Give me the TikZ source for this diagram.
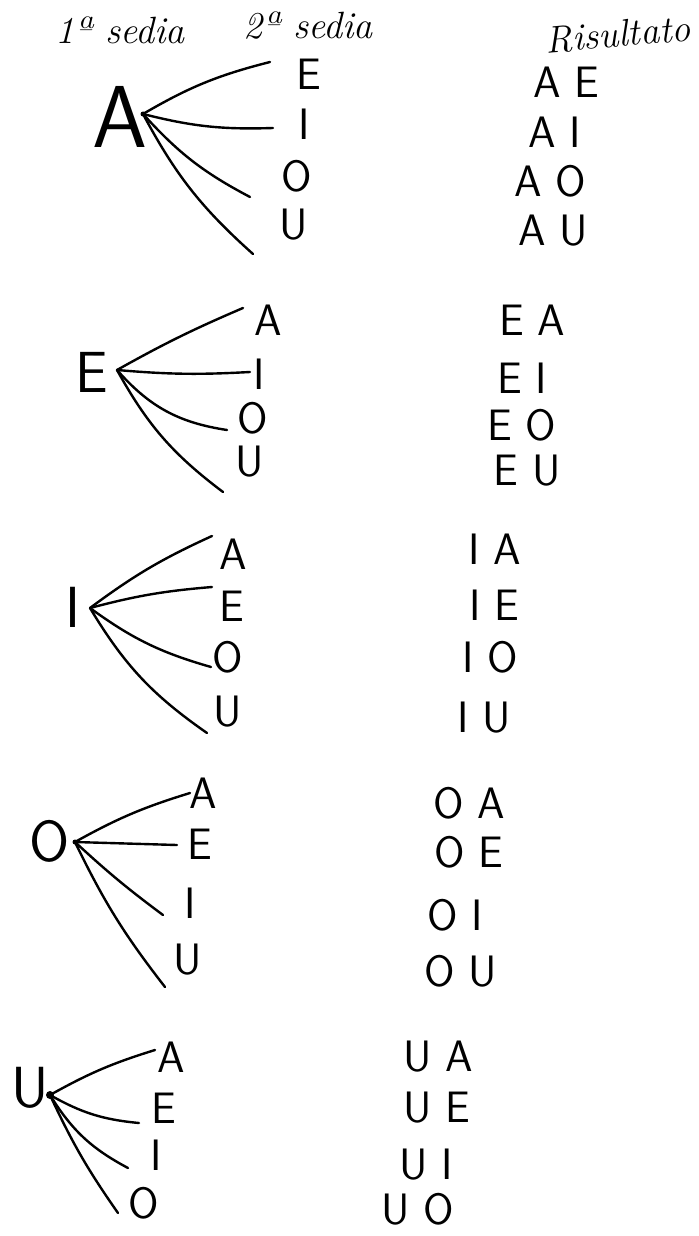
\documentclass[tikz,border=0pt]{standalone}
\usepackage{fontspec}
\usepackage{tikz}
\usetikzlibrary{arrows}

\begin{document}
\begin{tikzpicture}[x=0.5pt, y=-0.5pt]

      \tikzset{letter/.style = {font=\fontsize{22}{22}\selectfont\sffamily, inner sep=0pt}}
      \tikzset{rootletter/.style = {font=\fontsize{29}{29}\selectfont\sffamily, inner sep=0pt}}
      \tikzset{pair/.style = {font=\fontsize{22}{22}\selectfont\sffamily, inner sep=0pt}}
      \tikzset{header/.style = {font=\fontsize{19}{19}\selectfont\itshape, inner sep=0pt}}
      \tikzset{edge/.style = {line width=1.2pt, line cap=round}}
      \tikzset{junction/.style = {fill, radius=2.5}}

      \useasboundingbox (0,0) rectangle (699,1236);

      % headers
      \node[header] (h1) at (120,30) {1ª sedia};
      \node[header] (h2) at (308,26) {2ª sedia};
      \node[header, rotate=5] (h3) at (618,34) {Risultato};

      % first choice
      \node[rootletter, font=\fontsize{44}{44}\selectfont\sffamily] (rA) at (120,117) {A};
      \node[rootletter] (rE) at (92,372)  {E};
      \node[rootletter] (rI) at (73,607)  {I};
      \node[rootletter] (rO) at (50,841)  {O};
      \node[rootletter] (rU) at (30,1088) {U};

      % second choice
      \node[letter] (AE) at (309,74)  {E};
      \node[letter] (AI) at (304,124) {I};
      \node[letter] (AO) at (297,176) {O};
      \node[letter] (AU) at (294,225) {U};

      \node[letter] (EA) at (268,320) {A};
      \node[letter] (EI) at (259,374) {I};
      \node[letter] (EO) at (253,418) {O};
      \node[letter] (EU) at (250,462) {U};

      \node[letter] (IA) at (233,554) {A};
      \node[letter] (IE) at (232,606) {E};
      \node[letter] (IO) at (228,657) {O};
      \node[letter] (IU) at (228,712) {U};

      \node[letter] (OA) at (203,793) {A};
      \node[letter] (OE) at (200,844) {E};
      \node[letter] (OI) at (190,903) {I};
      \node[letter] (OU) at (188,960) {U};

      \node[letter] (UA) at (171,1057) {A};
      \node[letter] (UE) at (164,1108) {E};
      \node[letter] (UI) at (156,1155) {I};
      \node[letter] (UO) at (144,1203) {O};

      % results
      \node[pair] (pAE) at (566,82)  {A E};
      \node[pair] (pAI) at (555,132) {A I};
      \node[pair] (pAO) at (550,181) {A O};
      \node[pair] (pAU) at (553,231) {A U};

      \node[pair] (pEA) at (532,320) {E A};
      \node[pair] (pEI) at (522,378) {E I};
      \node[pair] (pEO) at (522,425) {E O};
      \node[pair] (pEU) at (527,471) {E U};

      \node[pair] (pIA) at (495,549) {I A};
      \node[pair] (pIE) at (494,605) {I E};
      \node[pair] (pIO) at (490,657) {I O};
      \node[pair] (pIU) at (484,718) {I U};

      \node[pair] (pOA) at (469,803) {O A};
      \node[pair] (pOE) at (469,852) {O E};
      \node[pair] (pOI) at (455,915) {O I};
      \node[pair] (pOU) at (461,971) {O U};

      \node[pair] (pUA) at (438,1057) {U A};
      \node[pair] (pUE) at (437,1108) {U E};
      \node[pair] (pUI) at (426,1165) {U I};
      \node[pair] (pUO) at (418,1209) {U O};

      % junctions and branch ends
      \coordinate (jA) at (143,114);
      \coordinate (jE) at (117,370);
      \coordinate (jI) at (90,608);
      \coordinate (jO) at (75,842);
      \coordinate (jU) at (50,1095);

      \coordinate (eAE) at (270,62);
      \coordinate (eAI) at (273,128);
      \coordinate (eAO) at (250,197);
      \coordinate (eAU) at (253,254);

      \coordinate (eEA) at (243,308);
      \coordinate (eEI) at (250,372);
      \coordinate (eEO) at (227,430);
      \coordinate (eEU) at (223,492);

      \coordinate (eIA) at (212,536);
      \coordinate (eIE) at (212,587);
      \coordinate (eIO) at (211,667);
      \coordinate (eIU) at (207,733);

      \coordinate (eOA) at (190,793);
      \coordinate (eOE) at (177,845);
      \coordinate (eOI) at (163,915);
      \coordinate (eOU) at (165,987);

      \coordinate (eUA) at (155,1050);
      \coordinate (eUE) at (139,1123);
      \coordinate (eUI) at (128,1168);
      \coordinate (eUO) at (118,1213);

      %edges
      \draw[edge] (jA) to[bend left=8]   (eAE);
      \draw[edge] (jA) to[bend right=8]  (eAI);
      \draw[edge] (jA) to[bend right=10] (eAO);
      \draw[edge] (jA) to[bend right=10] (eAU);

      \draw[edge] (jE) to[bend left=3]   (eEA);
      \draw[edge] (jE) to[bend right=4]  (eEI);
      \draw[edge] (jE) to[bend right=20] (eEO);
      \draw[edge] (jE) to[bend right=12] (eEU);

      \draw[edge] (jI) to[bend left=6]   (eIA);
      \draw[edge] (jI) to[bend left=5]   (eIE);
      \draw[edge] (jI) to[bend right=10] (eIO);
      \draw[edge] (jI) to[bend right=12] (eIU);

      \draw[edge] (jO) to[bend left=6]   (eOA);
      \draw[edge] (jO) to                (eOE);
      \draw[edge] (jO) to[bend right=3]  (eOI);
      \draw[edge] (jO) to[bend right=6]  (eOU);

      \draw[edge] (jU) to[bend left=6]   (eUA);
      \draw[edge] (jU) to[bend right=12] (eUE);
      \draw[edge] (jU) to[bend right=15] (eUI);
      \draw[edge] (jU) to[bend right=5]  (eUO);

      \fill[junction] (jA) circle;
      \fill[junction] (jO) circle;
      \fill[junction, radius=4] (jU) circle;

\end{tikzpicture}
\end{document}
